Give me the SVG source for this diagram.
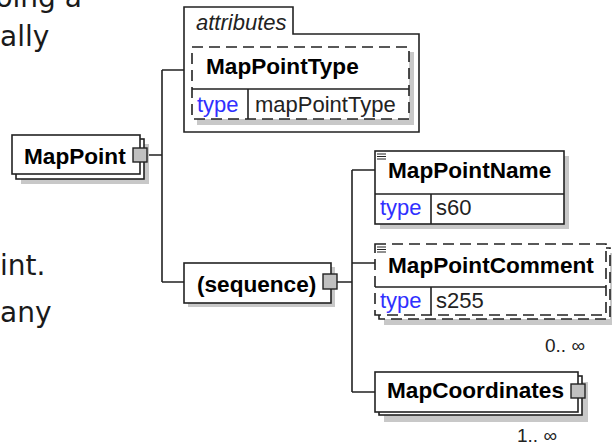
<svg xmlns="http://www.w3.org/2000/svg" width="613" height="447" viewBox="0 0 613 447">
<style>
.bg{font-family:"DejaVu Sans",Verdana,sans-serif;font-size:28px;fill:#1a1a1a}
.box{fill:#fff;stroke:#222;stroke-width:1.6}
.dash{fill:#fff;stroke:#222;stroke-width:1.6;stroke-dasharray:11 6}
.sh{fill:#c8c8c8}
.ln{fill:none;stroke:#222;stroke-width:1.6}
.nm{font-family:"Liberation Sans",Arial,sans-serif;font-weight:bold;font-size:22.6px;fill:#000}
.kw{font-family:"Liberation Sans",Arial,sans-serif;font-size:22px;fill:#3030ff}
.val{font-family:"Liberation Sans",Arial,sans-serif;font-size:22px;fill:#222}
.occ{font-family:"Liberation Sans",Arial,sans-serif;font-size:19px;fill:#222}
.att{font-family:"Liberation Sans",Arial,sans-serif;font-style:italic;font-size:22px;fill:#222}
.exp{fill:#c0c0c0;stroke:#222;stroke-width:1.4}
.doc{stroke:#222;stroke-width:1.2}
</style>
<rect x="0" y="0" width="613" height="447" fill="#fff"/>
<g id="background-text">
<text class="bg" x="-4.6" y="7">oing a</text>
<text class="bg" x="0" y="46">ally</text>
<text class="bg" x="0" y="275">int.</text>
<text class="bg" x="0" y="322">any</text>
</g>
<g id="connectors">
<path class="ln" d="M147,155 H162 M162,70 V282 M162,70 H184 M162,282 H184 M337,282 H352 M352,170 V392 M352,170 H375 M352,263 H375 M352,392 H375"/>
</g>
<g id="MapPoint">
<rect class="sh" x="21" y="144" width="128" height="40"/>
<rect class="box" x="16" y="139" width="128" height="40"/>
<rect class="box" x="12" y="135" width="128" height="39"/>
<text class="nm" x="24" y="164">MapPoint</text>
<rect class="exp" x="133" y="148" width="14" height="14"/>
</g>
<g id="attributes">
<path class="box" d="M184,132 V7 H293 V34 H419 V132 Z"/>
<text class="att" x="196" y="30">attributes</text>
<g id="MapPointType">
<rect class="sh" x="197" y="52" width="217" height="73"/>
<rect class="dash" x="192" y="47" width="217" height="72"/>
<path class="ln" d="M192,89 H409 M248,89 V119"/>
<text class="nm" x="206" y="74">MapPointType</text>
<text class="kw" x="197" y="112">type</text>
<text class="val" x="255" y="112">mapPointType</text>
</g>
</g>
<g id="sequence">
<rect class="sh" x="188" y="267" width="147" height="40"/>
<rect class="box" x="184" y="263" width="147" height="40"/>
<text class="nm" x="197" y="292">(sequence)</text>
<rect class="exp" x="323" y="274" width="14" height="15"/>
</g>
<g id="MapPointName">
<rect class="sh" x="380" y="156" width="189" height="73"/>
<rect class="box" x="375" y="151" width="189" height="73"/>
<path class="ln" d="M375,194 H564 M431,194 V224"/>
<path class="doc" d="M377,154 H386 M377,156.5 H386 M377,159 H386"/>
<text class="nm" x="388" y="178">MapPointName</text>
<text class="kw" x="380" y="215">type</text>
<text class="val" x="436" y="215">s60</text>
</g>
<g id="MapPointComment">
<rect class="sh" x="384" y="253" width="228" height="72"/>
<rect class="dash" x="379" y="248" width="231" height="71"/>
<rect class="dash" x="375" y="244" width="231" height="71"/>
<path class="ln" d="M375,287 H606 M431,287 V315"/>
<path class="doc" d="M377,247 H386 M377,249.5 H386 M377,252 H386"/>
<text class="nm" x="388" y="273">MapPointComment</text>
<text class="kw" x="380" y="308">type</text>
<text class="val" x="436" y="308">s255</text>
<text class="occ" x="545" y="352">0.. ∞</text>
</g>
<g id="MapCoordinates">
<rect class="sh" x="384" y="382" width="204" height="40"/>
<rect class="box" x="379" y="376" width="203" height="39"/>
<rect class="box" x="375" y="372" width="203" height="40"/>
<text class="nm" x="387" y="398">MapCoordinates</text>
<rect class="exp" x="571" y="384" width="14" height="14"/>
<text class="occ" x="517" y="442">1.. ∞</text>
</g>
</svg>
